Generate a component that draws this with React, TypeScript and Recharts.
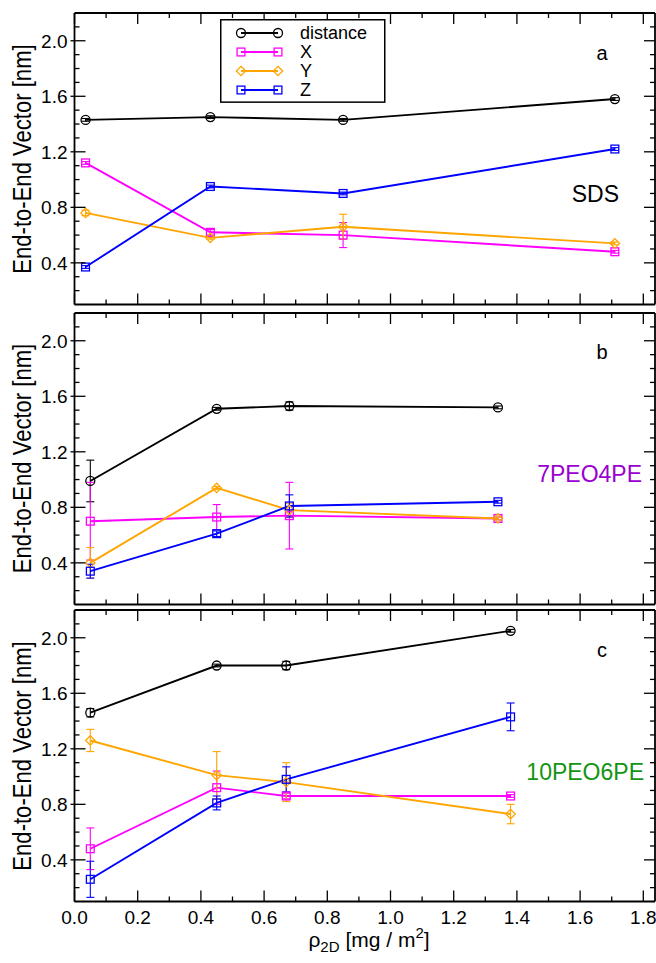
import React from 'react';
import { LineChart, Line, XAxis, YAxis, ErrorBar, Legend } from 'recharts';

// ---------- data ----------
const rhoSDS = [0.035, 0.43, 0.85, 1.71];
const rho7PEO4PE = [0.05, 0.45, 0.68, 1.34];
const rho10PEO6PE = [0.05, 0.45, 0.67, 1.38];

const sdsDistance = [1.43, 1.45, 1.43, 1.58];
const sdsDistanceErr = [0.01, 0.01, 0.01, 0.01];
const sdsX = [1.12, 0.62, 0.6, 0.48];
const sdsXErr = [0.01, 0.02, 0.09, 0.01];
const sdsY = [0.76, 0.58, 0.66, 0.54];
const sdsYErr = [0.02, 0.01, 0.09, 0.01];
const sdsZ = [0.37, 0.95, 0.9, 1.22];
const sdsZErr = [0.01, 0.01, 0.01, 0.01];

const p7Distance = [0.99, 1.51, 1.53, 1.52];
const p7DistanceErr = [0.15, 0.01, 0.03, 0.01];
const p7X = [0.7, 0.73, 0.74, 0.72];
const p7XErr = [0.28, 0.09, 0.24, 0.01];
const p7Y = [0.4, 0.94, 0.78, 0.72];
const p7YErr = [0.11, 0.01, 0.05, 0.01];
const p7Z = [0.34, 0.61, 0.81, 0.84];
const p7ZErr = [0.05, 0.02, 0.08, 0.01];

const p10Distance = [1.46, 1.8, 1.8, 2.05];
const p10DistanceErr = [0.03, 0.01, 0.03, 0.01];
const p10X = [0.48, 0.92, 0.86, 0.86];
const p10XErr = [0.15, 0.12, 0.02, 0.01];
const p10Y = [1.26, 1.01, 0.96, 0.73];
const p10YErr = [0.08, 0.17, 0.14, 0.07];
const p10Z = [0.26, 0.81, 0.98, 1.43];
const p10ZErr = [0.13, 0.05, 0.09, 0.1];

const seriesNames = ['distance', 'X', 'Y', 'Z'];
const seriesColors = ['#000000', '#FF00FF', '#FFA500', '#0000FF'];
const seriesMarkers = ['circle', 'square', 'diamond', 'square'];

const xTicks = [0, 0.1, 0.2, 0.3, 0.4, 0.5, 0.6, 0.7, 0.8, 0.9, 1.0, 1.1, 1.2, 1.3, 1.4, 1.5, 1.6, 1.7, 1.8];
const xLabelTicks = [0, 0.2, 0.4, 0.6, 0.8, 1.0, 1.2, 1.4, 1.6, 1.8];
const yTicks = [0.2, 0.3, 0.4, 0.5, 0.6, 0.7, 0.8, 0.9, 1.0, 1.1, 1.2, 1.3, 1.4, 1.5, 1.6, 1.7, 1.8, 1.9, 2.0, 2.1];
const yLabelTicks = [0.4, 0.8, 1.2, 1.6, 2.0];

const panelLetters = ['a', 'b', 'c'];
const panelSystems = ['SDS', '7PEO4PE', '10PEO6PE'];
const panelSystemColors = ['#000000', '#9A00D0', '#139413'];
const yTitle = 'End-to-End Vector  [nm]';

// ---------- layout ----------
const W = 656;
const PLOT_LEFT = 74.5;
const PLOT_H = 291.5;
const PANEL_TOPS = [13.3, 312.7, 610.2];
const PAD = 5;
const X_DOMAIN: [number, number] = [0, 1.837];
const Y_DOMAIN: [number, number] = [0.1, 2.2];
const FONT = '"Liberation Sans", Arial, Helvetica, sans-serif';

const makeRows = (rho: number[], d: number[], dE: number[], x: number[], xE: number[], y: number[], yE: number[], z: number[], zE: number[]) =>
  rho.map((r, i) => ({
    rho: r,
    distance: d[i], distanceErr: dE[i],
    X: x[i], XErr: xE[i],
    Y: y[i], YErr: yE[i],
    Z: z[i], ZErr: zE[i],
  }));

const panels = [
  makeRows(rhoSDS, sdsDistance, sdsDistanceErr, sdsX, sdsXErr, sdsY, sdsYErr, sdsZ, sdsZErr),
  makeRows(rho7PEO4PE, p7Distance, p7DistanceErr, p7X, p7XErr, p7Y, p7YErr, p7Z, p7ZErr),
  makeRows(rho10PEO6PE, p10Distance, p10DistanceErr, p10X, p10XErr, p10Y, p10YErr, p10Z, p10ZErr),
];

const isIn = (v: number, arr: number[]) => arr.some((m) => Math.abs(m - v) < 1e-6);

const Marker = ({ cx, cy, kind, color }: any) => {
  if (cx == null || cy == null) return null;
  if (kind === 'circle') return <circle cx={cx} cy={cy} r={4.5} fill="none" stroke={color} strokeWidth={1.3} />;
  if (kind === 'diamond')
    return (
      <polygon
        points={`${cx},${cy - 4.7} ${cx + 4.7},${cy} ${cx},${cy + 4.7} ${cx - 4.7},${cy}`}
        fill="none"
        stroke={color}
        strokeWidth={1.3}
      />
    );
  return <rect x={cx - 3.9} y={cy - 3.9} width={7.8} height={7.8} fill="none" stroke={color} strokeWidth={1.3} />;
};

const BottomTick = (props: any) => {
  const { x, y, payload, showLabels } = props;
  const major = isIn(payload.value, xLabelTicks);
  return (
    <g>
      <line x1={x} x2={x} y1={y} y2={y - (major ? 11 : 5)} stroke="#000" strokeWidth={1.3} />
      {showLabels && major && (
        <text x={x} y={y + 22} textAnchor="middle" fontSize={19} fontFamily={FONT} fill="#000">
          {payload.value.toFixed(1)}
        </text>
      )}
    </g>
  );
};

const TopTick = (props: any) => {
  const { x, y, payload } = props;
  const major = isIn(payload.value, xLabelTicks);
  return <line x1={x} x2={x} y1={y} y2={y + (major ? 11 : 5)} stroke="#000" strokeWidth={1.3} />;
};

const LeftTick = (props: any) => {
  const { x, y, payload } = props;
  const major = isIn(payload.value, yLabelTicks);
  return (
    <g>
      <line x1={x - (major ? 4 : 0)} x2={x + (major ? 11 : 5)} y1={y} y2={y} stroke="#000" strokeWidth={1.3} />
      {major && (
        <text x={x - 7} y={y} dy="0.36em" textAnchor="end" fontSize={19} fontFamily={FONT} fill="#000">
          {payload.value.toFixed(1)}
        </text>
      )}
    </g>
  );
};

const RightTick = (props: any) => {
  const { x, y, payload } = props;
  const major = isIn(payload.value, yLabelTicks);
  return <line x1={x} x2={x - (major ? 11 : 5)} y1={y} y2={y} stroke="#000" strokeWidth={1.3} />;
};

const LegendBox = () => (
  <svg width={166} height={84} style={{ display: 'block', overflow: 'visible' }}>
    <rect x={0.75} y={0.75} width={164} height={82.4} fill="#fff" stroke="#000" strokeWidth={1.5} />
    {seriesNames.map((name, i) => {
      const yy = 14 + i * 19;
      return (
        <g key={name}>
          <line x1={21} x2={58} y1={yy} y2={yy} stroke={seriesColors[i]} strokeWidth={1.8} />
          <Marker cx={21} cy={yy} kind={seriesMarkers[i]} color={seriesColors[i]} />
          <Marker cx={58} cy={yy} kind={seriesMarkers[i]} color={seriesColors[i]} />
          <text x={80} y={yy} dy="0.36em" fontSize={18} fontFamily={FONT} fill="#000">
            {name}
          </text>
        </g>
      );
    })}
  </svg>
);

const Panel = ({ idx }: { idx: number }) => {
  const isLast = idx === 2;
  const top = PANEL_TOPS[idx] - PAD;
  const bottomSpace = isLast ? 60 : PAD;
  const height = PAD + PLOT_H + bottomSpace;
  return (
    <div style={{ position: 'absolute', left: 0, top, width: W, height }}>
      <LineChart
        width={W}
        height={height}
        data={panels[idx]}
        margin={{ top: PAD - 1, right: 0, bottom: bottomSpace - 1, left: 0 }}
        style={{ overflow: 'visible' }}
      >
        <XAxis
          xAxisId="bottom"
          dataKey="rho"
          type="number"
          domain={X_DOMAIN}
          allowDataOverflow
          ticks={xTicks}
          interval={0}
          height={1}
          tickSize={0}
          tickMargin={0}
          tickLine={false}
          axisLine={{ stroke: '#000', strokeWidth: 1.8 }}
          tick={<BottomTick showLabels={isLast} />}
        />
        <XAxis
          xAxisId="top"
          orientation="top"
          dataKey="rho"
          type="number"
          domain={X_DOMAIN}
          allowDataOverflow
          ticks={xTicks}
          interval={0}
          height={1}
          tickSize={0}
          tickMargin={0}
          tickLine={false}
          axisLine={{ stroke: '#000', strokeWidth: 1.8 }}
          tick={<TopTick />}
        />
        <YAxis
          yAxisId="left"
          type="number"
          domain={Y_DOMAIN}
          allowDataOverflow
          ticks={yTicks}
          interval={0}
          width={PLOT_LEFT}
          tickSize={0}
          tickMargin={0}
          tickLine={false}
          axisLine={{ stroke: '#000', strokeWidth: 1.8 }}
          tick={<LeftTick />}
        />
        <YAxis
          yAxisId="right"
          orientation="right"
          type="number"
          domain={Y_DOMAIN}
          allowDataOverflow
          ticks={yTicks}
          interval={0}
          width={1}
          tickSize={0}
          tickMargin={0}
          tickLine={false}
          axisLine={{ stroke: '#000', strokeWidth: 1.8 }}
          tick={<RightTick />}
        />
        {idx === 0 && (
          <Legend
            layout="horizontal"
            verticalAlign="middle"
            align="center"
            wrapperStyle={{ position: 'absolute', left: 220, top: 19.3 - top, width: 166, height: 84 }}
            content={() => <LegendBox />}
          />
        )}
        {seriesNames.map((name, i) => (
          <Line
            key={name}
            xAxisId="bottom"
            yAxisId="left"
            type="linear"
            dataKey={name}
            stroke={seriesColors[i]}
            strokeWidth={1.9}
            isAnimationActive={false}
            activeDot={false}
            dot={(p: any) => <Marker key={`${name}-${p.index}`} cx={p.cx} cy={p.cy} kind={seriesMarkers[i]} color={seriesColors[i]} />}
          >
            <ErrorBar dataKey={`${name}Err`} width={4} stroke={seriesColors[i]} strokeWidth={1.1} direction="y" isAnimationActive={false} />
          </Line>
        ))}
      </LineChart>
    </div>
  );
};

export default function App() {
  return (
    <div style={{ position: 'absolute', left: 0, top: 0, width: W, height: 963, overflow: 'hidden', background: '#fff' }}>
      {[0, 1, 2].map((i) => (
        <Panel key={i} idx={i} />
      ))}
      <svg width={W} height={963} style={{ position: 'absolute', left: 0, top: 0, pointerEvents: 'none' }}>
        {[0, 1, 2].map((i) => {
          const cy = PANEL_TOPS[i] + PLOT_H / 2;
          return (
            <g key={i}>
              <text
                x={0}
                y={0}
                transform={`translate(22, ${cy}) rotate(-90) scale(0.92, 1.08)`}
                textAnchor="middle"
                dy="0.36em"
                fontSize={24}
                fontFamily={FONT}
                fill="#000"
              >
                {yTitle}
              </text>
              <text x={602} y={PANEL_TOPS[i] + 46.5} textAnchor="middle" fontSize={20} fontFamily={FONT} fill="#000">
                {panelLetters[i]}
              </text>
            </g>
          );
        })}
        <text x={619} y={202} textAnchor="end" fontSize={23} fontFamily={FONT} fill={panelSystemColors[0]}>
          {panelSystems[0]}
        </text>
        <text x={642} y={482} textAnchor="end" fontSize={23} fontFamily={FONT} fill={panelSystemColors[1]}>
          {panelSystems[1]}
        </text>
        <text x={644} y={780} textAnchor="end" fontSize={23} fontFamily={FONT} fill={panelSystemColors[2]}>
          {panelSystems[2]}
        </text>
        <text x={369} y={947} textAnchor="middle" fontSize={21} fontFamily={FONT} fill="#000">
          <tspan>ρ</tspan>
          <tspan fontSize={15} dy={5}>2D</tspan>
          <tspan dy={-5}>{'  [mg / m'}</tspan>
          <tspan fontSize={15} dy={-9}>2</tspan>
          <tspan dy={9}>]</tspan>
        </text>
      </svg>
    </div>
  );
}
